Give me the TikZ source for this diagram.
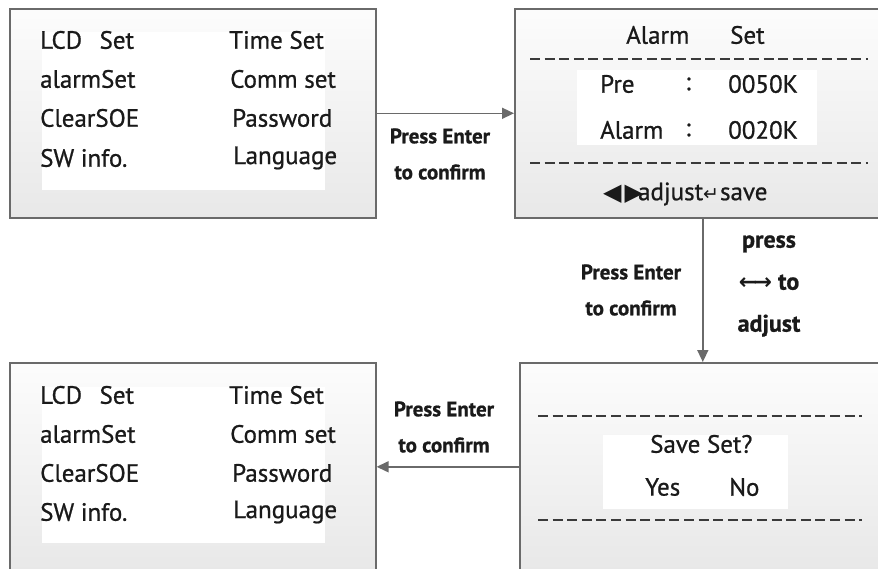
\documentclass[tikz,border=0pt]{standalone}
\usepackage{fontspec}
\setmainfont{PT Sans}[FakeBold=0.8]
\newfontfamily\boxf{PT Sans}[FakeBold=0.8]
\newfontfamily\symf{DejaVu Sans}
\usetikzlibrary{arrows.meta}
\definecolor{linegray}{HTML}{6A6A6A}
\definecolor{ink}{HTML}{1A1A1A}
\definecolor{dashink}{HTML}{3A3A3A}
\begin{document}
\begin{tikzpicture}[x=1pt,y=-1pt,
  screen/.style={draw=linegray, line width=1.6pt, top color=white!99!black, bottom color=white!91!black,
    inner sep=0pt, anchor=north west},
  txt/.style={font=\boxf\fontsize{25}{28}\selectfont, text=ink, inner sep=0pt},
  lbl/.style={font=\bfseries\fontsize{21}{36}\selectfont, text=ink, inner sep=0pt, align=center},
  conn/.style={draw=linegray, line width=1.5pt, -{Triangle[length=12pt,width=11pt]}},
  dashrule/.style={draw=dashink, line width=2pt, dash pattern=on 10pt off 4.6pt},
  inner/.style={fill=white, draw=none}
]
\useasboundingbox (0,0) rectangle (878,569);
\clip (0,0) rectangle (878,569);
\fill[white] (0,0) rectangle (878,569);

% screens
\node[screen, minimum width=366pt, minimum height=209pt] (b1) at (9,8) {};
\node[screen, minimum width=376pt, minimum height=209pt] (b2) at (514,8) {};
\node[screen, minimum width=366pt, minimum height=208pt] (b3) at (9,362) {};
\node[screen, minimum width=366pt, minimum height=208pt] (b4) at (519,362) {};

% inner white panels
\fill[inner] (42,32) rectangle (325,190);
\fill[inner] (42,387) rectangle (325,543);
\fill[inner] (577,70) rectangle (817,145);
\fill[inner] (603,435) rectangle (788,509);

% box 1 text
\node[txt, anchor=west] (m1a) at (40,40) {LCD\hspace{0.7em}Set};
\node[txt, anchor=west] (m1b) at (40,79) {alarmSet};
\node[txt, anchor=west] (m1c) at (40,118) {ClearSOE};
\node[txt, anchor=west] (m1d) at (40,158) {SW info.};
\node[txt, anchor=west] (m1e) at (229,40) {Time Set};
\node[txt, anchor=west] (m1f) at (230,79) {Comm set};
\node[txt, anchor=west] (m1g) at (232,118) {Password};
\node[txt, anchor=west] (m1h) at (233,158) {Language};

% box 3 text
\node[txt, anchor=west] (m3a) at (40,395) {LCD\hspace{0.7em}Set};
\node[txt, anchor=west] (m3b) at (40,434) {alarmSet};
\node[txt, anchor=west] (m3c) at (40,473) {ClearSOE};
\node[txt, anchor=west] (m3d) at (40,512) {SW info.};
\node[txt, anchor=west] (m3e) at (229,395) {Time Set};
\node[txt, anchor=west] (m3f) at (230,434) {Comm set};
\node[txt, anchor=west] (m3g) at (232,473) {Password};
\node[txt, anchor=west] (m3h) at (233,512) {Language};

% box 2 text
\node[txt, anchor=west] (a1) at (626,35) {Alarm};
\node[txt, anchor=west] (a2) at (730,35) {Set};
\draw[dashrule] (530,59) -- (868,59);
\node[txt, anchor=west] (p1) at (600,84) {Pre};
\node[txt] (p2) at (688,84) {:};
\node[txt, anchor=west] (p3) at (728,84) {0050K};
\node[txt, anchor=west] (q1) at (600,130) {Alarm};
\node[txt] (q2) at (688,130) {:};
\node[txt, anchor=west] (q3) at (728,130) {0020K};
\draw[dashrule] (530,163) -- (868,163);
\node[txt, anchor=west] (adj) at (603,194) {{\symf\fontsize{24}{26}\selectfont ◀\kern3pt▶}\kern-5pt adjust{\symf\fontsize{19}{22}\selectfont ↵}\kern1pt save};

% box 4 text
\draw[dashrule] (538,416) -- (862,416);
\node[txt, anchor=west] (s1) at (650,444) {Save Set?};
\node[txt, anchor=west] (s2) at (645,487) {Yes};
\node[txt, anchor=west] (s3) at (729,487) {No};
\draw[dashrule] (538,520) -- (862,520);

% connectors
\draw[conn] (b1.east) -- (b2.west);
\draw[conn] (b2.south) -- (b4.north -| b2.south);
\draw[conn] (b4.west) -- (b3.east);

% connector labels
\node[lbl] (l1) at (440,154) {Press Enter\\to confirm};
\node[lbl] (l2) at (631,290) {Press Enter\\to confirm};
\node[lbl, font=\bfseries\fontsize{24}{42}\selectfont] (l3) at (769,286) {press\\{\symf\fontsize{22}{20}\selectfont ←\kern-3.5pt→}\kern6pt to\\adjust};
\node[lbl] (l4) at (444,427) {Press Enter\\to confirm};
\end{tikzpicture}
\end{document}
